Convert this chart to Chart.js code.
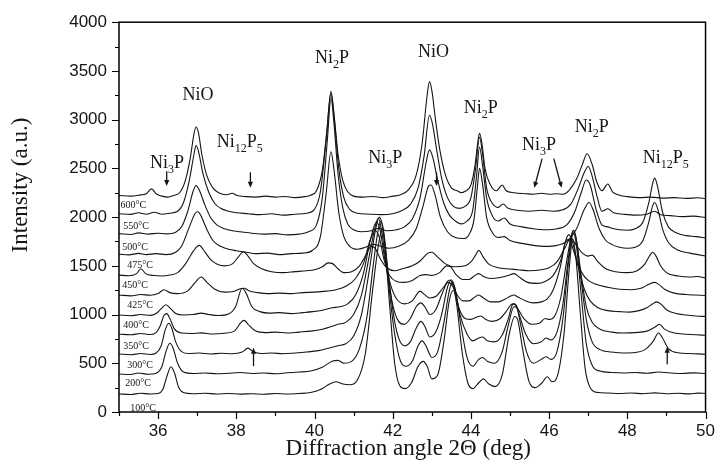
<!DOCTYPE html>
<html>
<head>
<meta charset="utf-8">
<title>XRD patterns vs. annealing temperature</title>
<script src="https://cdn.jsdelivr.net/npm/chart.js@4.4.1/dist/chart.umd.min.js"></script>
<style>
  html, body { margin: 0; padding: 0; background: #fff; }
  canvas { display: block; }
</style>
</head>
<body>
<canvas id="xrd" width="724" height="470"></canvas>
<script>
// --- Data: one pattern per annealing temperature, [2θ (deg), intensity (a.u.)], already offset for stacking ---

const trace600 = [[35.0,2222],[35.3,2215],[35.55,2228],[35.7,2240],[35.83,2290],[35.95,2240],[36.1,2215],[36.25,2205],[36.4,2222],[36.55,2250],[36.7,2380],[36.82,2600],[36.92,2860],[36.97,2925],[37.03,2870],[37.12,2640],[37.25,2420],[37.4,2300],[37.55,2250],[37.75,2230],[37.9,2245],[38.0,2225],[38.25,2210],[38.5,2205],[38.75,2215],[39.0,2205],[39.25,2212],[39.5,2200],[39.75,2210],[39.9,2225],[40.05,2270],[40.2,2480],[40.32,2900],[40.42,3290],[40.5,3050],[40.6,2650],[40.72,2380],[40.85,2260],[41.0,2215],[41.25,2205],[41.5,2212],[41.75,2200],[42.0,2215],[42.2,2230],[42.4,2280],[42.6,2430],[42.75,2750],[42.88,3250],[42.94,3390],[43.0,3300],[43.1,2980],[43.2,2700],[43.35,2430],[43.5,2300],[43.65,2270],[43.75,2250],[43.85,2265],[44.0,2330],[44.1,2520],[44.18,2780],[44.22,2860],[44.28,2760],[44.36,2500],[44.5,2330],[44.65,2270],[44.8,2330],[44.9,2270],[45.1,2250],[45.4,2240],[45.6,2235],[45.8,2245],[46.0,2235],[46.2,2240],[46.35,2235],[46.5,2270],[46.7,2390],[46.85,2540],[46.97,2650],[47.1,2540],[47.22,2360],[47.35,2270],[47.5,2340],[47.62,2260],[47.8,2225],[48.0,2210],[48.3,2200],[48.6,2205],[48.9,2195],[49.2,2200],[49.5,2192],[49.8,2198],[50.0,2190]];

const trace550 = [[35.0,2035],[35.3,2028],[35.5,2045],[35.7,2030],[35.9,2050],[36.1,2030],[36.3,2040],[36.5,2060],[36.65,2150],[36.8,2380],[36.92,2650],[36.97,2735],[37.03,2680],[37.15,2440],[37.3,2250],[37.45,2140],[37.6,2090],[37.8,2060],[38.0,2045],[38.3,2035],[38.6,2025],[38.9,2035],[39.2,2020],[39.5,2030],[39.8,2040],[40.0,2080],[40.15,2260],[40.3,2800],[40.42,3270],[40.5,3030],[40.62,2500],[40.75,2200],[40.9,2080],[41.1,2040],[41.4,2030],[41.7,2025],[42.0,2035],[42.2,2060],[42.45,2130],[42.65,2300],[42.8,2620],[42.94,3045],[43.02,2950],[43.12,2700],[43.25,2400],[43.4,2200],[43.55,2110],[43.7,2090],[43.85,2110],[44.0,2200],[44.12,2500],[44.22,2820],[44.3,2640],[44.4,2300],[44.55,2140],[44.7,2100],[44.82,2135],[44.95,2090],[45.2,2070],[45.5,2060],[45.8,2070],[46.1,2060],[46.35,2075],[46.55,2130],[46.75,2300],[46.9,2460],[47.0,2520],[47.1,2420],[47.22,2220],[47.35,2060],[47.5,2085],[47.65,2045],[47.9,2030],[48.2,2020],[48.5,2030],[48.7,2060],[48.85,2025],[49.1,2015],[49.4,2005],[49.7,2010],[50.0,1995]];

const trace500 = [[35.0,1830],[35.3,1822],[35.5,1838],[35.75,1825],[36.0,1835],[36.2,1828],[36.45,1845],[36.6,1900],[36.75,2050],[36.9,2270],[36.97,2325],[37.05,2280],[37.2,2120],[37.35,1990],[37.5,1920],[37.7,1880],[37.9,1860],[38.1,1850],[38.4,1835],[38.7,1825],[39.0,1830],[39.3,1818],[39.6,1825],[39.85,1850],[40.05,1920],[40.2,2200],[40.33,2800],[40.42,3220],[40.5,2950],[40.6,2450],[40.72,2100],[40.85,1930],[41.0,1870],[41.2,1850],[41.45,1860],[41.65,1885],[41.85,1860],[42.1,1870],[42.3,1900],[42.5,1980],[42.7,2200],[42.85,2550],[42.94,2690],[43.02,2620],[43.15,2380],[43.3,2150],[43.45,2020],[43.6,1960],[43.75,1930],[43.9,1960],[44.05,2080],[44.15,2450],[44.22,2720],[44.3,2520],[44.4,2200],[44.55,2010],[44.7,1960],[44.85,1990],[45.0,1930],[45.3,1900],[45.6,1880],[45.9,1870],[46.2,1880],[46.45,1920],[46.65,2050],[46.82,2250],[46.95,2380],[47.05,2330],[47.2,2080],[47.35,1920],[47.5,1900],[47.6,1885],[47.8,1870],[48.0,1865],[48.2,1880],[48.4,1950],[48.55,2150],[48.65,2350],[48.7,2400],[48.78,2300],[48.9,2050],[49.05,1900],[49.25,1840],[49.5,1810],[49.75,1800],[50.0,1785]];

const trace475 = [[35.0,1620],[35.25,1612],[35.5,1628],[35.7,1615],[35.95,1625],[36.2,1615],[36.45,1640],[36.6,1700],[36.8,1900],[36.95,2040],[37.02,2055],[37.1,2010],[37.25,1870],[37.4,1760],[37.6,1700],[37.8,1670],[38.0,1655],[38.25,1640],[38.5,1625],[38.8,1630],[39.1,1615],[39.4,1625],[39.7,1630],[39.95,1660],[40.15,1800],[40.3,2250],[40.42,2670],[40.5,2480],[40.62,2050],[40.75,1800],[40.9,1700],[41.1,1670],[41.3,1690],[41.5,1720],[41.7,1700],[41.9,1680],[42.15,1700],[42.4,1760],[42.6,1880],[42.78,2120],[42.92,2320],[42.98,2330],[43.08,2230],[43.22,2000],[43.4,1850],[43.6,1790],[43.8,1780],[43.95,1820],[44.08,1980],[44.17,2330],[44.22,2500],[44.3,2330],[44.4,2000],[44.55,1840],[44.7,1790],[44.85,1800],[45.0,1760],[45.3,1730],[45.6,1710],[45.9,1700],[46.2,1710],[46.45,1750],[46.7,1880],[46.9,2080],[47.02,2150],[47.12,2080],[47.28,1880],[47.45,1760],[47.6,1720],[47.8,1690],[48.0,1680],[48.2,1690],[48.4,1760],[48.55,1950],[48.65,2120],[48.7,2150],[48.78,2080],[48.9,1880],[49.05,1740],[49.3,1660],[49.6,1630],[49.8,1615],[50.0,1600]];

const trace450 = [[35.0,1405],[35.25,1398],[35.45,1420],[35.56,1470],[35.68,1420],[35.9,1400],[36.1,1395],[36.3,1405],[36.5,1430],[36.7,1520],[36.9,1650],[37.05,1710],[37.2,1640],[37.35,1560],[37.5,1520],[37.7,1500],[37.9,1520],[38.05,1590],[38.18,1645],[38.3,1600],[38.45,1520],[38.65,1470],[38.9,1440],[39.2,1430],[39.5,1440],[39.8,1450],[40.0,1460],[40.2,1490],[40.35,1530],[40.45,1525],[40.6,1470],[40.75,1430],[40.95,1440],[41.15,1500],[41.3,1600],[41.45,1700],[41.55,1680],[41.7,1560],[41.85,1480],[42.05,1450],[42.25,1470],[42.5,1500],[42.7,1550],[42.9,1630],[43.0,1640],[43.15,1590],[43.35,1520],[43.6,1490],[43.85,1500],[44.0,1540],[44.12,1610],[44.2,1660],[44.3,1600],[44.45,1520],[44.7,1480],[44.9,1470],[45.2,1460],[45.5,1450],[45.8,1460],[46.0,1480],[46.2,1540],[46.4,1680],[46.55,1780],[46.68,1720],[46.85,1630],[47.0,1600],[47.1,1610],[47.25,1540],[47.45,1470],[47.7,1440],[48.0,1430],[48.25,1450],[48.45,1520],[48.58,1610],[48.65,1640],[48.72,1610],[48.85,1500],[49.0,1430],[49.3,1395],[49.6,1385],[49.8,1390],[50.0,1375]];

const trace425 = [[35.0,1200],[35.3,1192],[35.55,1205],[35.8,1198],[36.0,1215],[36.15,1255],[36.3,1225],[36.5,1215],[36.75,1240],[36.95,1330],[37.1,1385],[37.25,1330],[37.45,1260],[37.7,1230],[37.95,1240],[38.1,1265],[38.2,1270],[38.32,1245],[38.55,1225],[38.8,1215],[39.1,1220],[39.4,1215],[39.7,1225],[40.0,1230],[40.3,1240],[40.55,1255],[40.8,1290],[41.05,1370],[41.25,1520],[41.42,1760],[41.55,1860],[41.65,1800],[41.78,1560],[41.92,1400],[42.1,1340],[42.3,1330],[42.5,1350],[42.7,1400],[42.85,1410],[43.0,1400],[43.2,1430],[43.38,1500],[43.48,1490],[43.62,1410],[43.8,1360],[43.95,1360],[44.1,1400],[44.2,1420],[44.32,1390],[44.5,1370],[44.75,1380],[44.95,1400],[45.1,1420],[45.25,1380],[45.45,1330],[45.7,1320],[45.9,1340],[46.1,1400],[46.3,1560],[46.45,1770],[46.55,1740],[46.7,1560],[46.85,1420],[47.0,1350],[47.2,1310],[47.5,1280],[47.8,1260],[48.1,1255],[48.35,1270],[48.55,1310],[48.7,1330],[48.8,1310],[48.95,1260],[49.2,1220],[49.5,1205],[49.75,1200],[50.0,1195]];

const trace400 = [[35.0,995],[35.3,988],[35.55,1000],[35.8,992],[35.95,1010],[36.08,1060],[36.2,1100],[36.32,1060],[36.45,1010],[36.65,995],[36.9,1000],[37.1,1015],[37.3,1000],[37.55,990],[37.8,1005],[37.98,1080],[38.15,1270],[38.25,1220],[38.4,1080],[38.6,1030],[38.85,1015],[39.1,1020],[39.4,1010],[39.7,1020],[39.95,1030],[40.2,1045],[40.45,1070],[40.65,1080],[40.85,1110],[41.05,1200],[41.25,1420],[41.42,1750],[41.58,1950],[41.68,1860],[41.8,1560],[41.95,1300],[42.1,1160],[42.3,1110],[42.5,1140],[42.62,1210],[42.7,1240],[42.8,1210],[42.95,1170],[43.12,1190],[43.28,1270],[43.42,1330],[43.52,1300],[43.65,1200],[43.8,1140],[43.95,1140],[44.1,1180],[44.2,1200],[44.32,1170],[44.5,1130],[44.7,1130],[44.88,1160],[45.02,1190],[45.1,1200],[45.2,1180],[45.4,1140],[45.6,1120],[45.8,1130],[45.95,1160],[46.1,1250],[46.28,1480],[46.42,1750],[46.5,1820],[46.6,1740],[46.75,1480],[46.9,1260],[47.05,1140],[47.25,1070],[47.5,1040],[47.8,1030],[48.05,1025],[48.3,1040],[48.5,1070],[48.65,1110],[48.75,1130],[48.85,1110],[49.0,1050],[49.25,1010],[49.5,995],[49.75,985],[50.0,980]];

const trace350 = [[35.0,800],[35.3,792],[35.55,806],[35.8,795],[35.95,815],[36.05,880],[36.15,990],[36.22,1010],[36.3,960],[36.42,850],[36.6,810],[36.85,805],[37.1,812],[37.4,800],[37.7,808],[37.95,830],[38.12,920],[38.2,940],[38.3,900],[38.5,830],[38.75,815],[39.0,820],[39.3,810],[39.6,820],[39.9,830],[40.2,850],[40.45,880],[40.6,900],[40.8,920],[41.0,1000],[41.2,1200],[41.4,1600],[41.55,1900],[41.63,1990],[41.72,1850],[41.85,1450],[42.0,1100],[42.15,930],[42.3,900],[42.45,960],[42.6,1080],[42.72,1120],[42.82,1080],[42.95,1000],[43.1,1050],[43.25,1200],[43.4,1340],[43.47,1355],[43.55,1290],[43.7,1060],[43.85,960],[44.0,950],[44.15,975],[44.25,985],[44.38,950],[44.55,930],[44.75,960],[44.9,1030],[45.02,1100],[45.1,1110],[45.2,1060],[45.35,960],[45.55,900],[45.75,910],[45.9,960],[46.0,950],[46.15,990],[46.3,1180],[46.45,1550],[46.58,1830],[46.63,1865],[46.7,1760],[46.82,1400],[46.95,1080],[47.1,920],[47.3,850],[47.6,820],[47.9,810],[48.2,815],[48.5,830],[48.7,870],[48.82,900],[48.95,850],[49.2,810],[49.5,798],[49.75,792],[50.0,788]];

const trace300 = [[35.0,595],[35.3,588],[35.55,600],[35.8,590],[35.95,605],[36.08,680],[36.18,840],[36.27,910],[36.35,860],[36.45,720],[36.6,620],[36.8,600],[37.05,605],[37.35,595],[37.6,603],[37.9,598],[38.15,615],[38.3,655],[38.42,620],[38.65,600],[38.9,605],[39.2,598],[39.5,605],[39.8,615],[40.1,630],[40.4,660],[40.6,680],[40.8,700],[41.0,780],[41.2,1000],[41.4,1450],[41.55,1850],[41.66,2000],[41.75,1880],[41.88,1450],[42.02,1000],[42.15,760],[42.3,680],[42.45,720],[42.6,860],[42.72,930],[42.82,880],[42.95,770],[43.1,820],[43.25,1000],[43.4,1280],[43.5,1355],[43.58,1290],[43.72,1000],[43.9,800],[44.05,730],[44.2,760],[44.3,770],[44.42,730],[44.6,720],[44.8,790],[44.95,950],[45.08,1110],[45.15,1100],[45.25,980],[45.4,800],[45.6,700],[45.8,720],[45.92,760],[46.05,740],[46.2,820],[46.35,1100],[46.5,1600],[46.62,1860],[46.7,1760],[46.82,1350],[46.95,950],[47.1,720],[47.3,640],[47.6,615],[47.9,605],[48.2,610],[48.45,640],[48.65,720],[48.8,810],[48.9,760],[49.05,650],[49.3,608],[49.6,600],[49.8,596],[50.0,593]];

const trace200 = [[35.0,390],[35.3,385],[35.5,400],[35.75,388],[35.95,398],[36.1,470],[36.2,620],[36.3,705],[36.38,660],[36.5,500],[36.65,410],[36.9,395],[37.2,400],[37.5,392],[37.8,398],[38.1,405],[38.4,395],[38.7,400],[39.0,392],[39.3,402],[39.6,410],[39.9,420],[40.2,460],[40.45,520],[40.6,530],[40.75,500],[40.95,520],[41.15,650],[41.35,1000],[41.5,1500],[41.62,1850],[41.7,1960],[41.78,1820],[41.9,1300],[42.05,800],[42.2,520],[42.35,470],[42.5,520],[42.65,680],[42.75,730],[42.85,680],[43.0,560],[43.15,620],[43.3,900],[43.45,1250],[43.52,1330],[43.6,1250],[43.75,880],[43.9,560],[44.05,470],[44.2,540],[44.3,560],[44.42,520],[44.6,500],[44.8,620],[44.95,880],[45.1,1080],[45.17,1070],[45.27,900],[45.42,620],[45.6,500],[45.8,540],[45.92,567],[46.05,540],[46.2,620],[46.35,950],[46.5,1550],[46.62,1840],[46.7,1700],[46.82,1200],[46.95,700],[47.1,480],[47.3,420],[47.6,405],[47.9,400],[48.2,405],[48.5,398],[48.8,410],[49.1,400],[49.4,395],[49.7,402],[50.0,395]];

const trace100 = [[35.0,185],[35.3,180],[35.55,192],[35.8,185],[36.0,190],[36.12,230],[36.22,360],[36.33,465],[36.42,400],[36.52,260],[36.65,200],[36.9,188],[37.2,192],[37.5,185],[37.8,190],[38.1,183],[38.4,188],[38.7,182],[39.0,190],[39.3,185],[39.6,190],[39.9,200],[40.15,230],[40.4,290],[40.55,310],[40.7,290],[40.9,280],[41.1,330],[41.3,600],[41.5,1300],[41.65,1750],[41.73,1870],[41.8,1700],[41.92,1100],[42.05,500],[42.18,270],[42.32,240],[42.48,300],[42.65,470],[42.78,520],[42.88,470],[43.0,340],[43.15,380],[43.3,700],[43.45,1150],[43.55,1250],[43.63,1120],[43.78,600],[43.92,300],[44.05,240],[44.2,300],[44.32,340],[44.45,290],[44.62,260],[44.8,380],[44.98,800],[45.12,980],[45.2,940],[45.32,650],[45.48,320],[45.65,250],[45.82,300],[45.95,362],[46.08,310],[46.22,380],[46.38,800],[46.52,1500],[46.6,1780],[46.68,1600],[46.8,1000],[46.92,450],[47.05,250],[47.25,200],[47.5,195],[47.8,190],[48.1,195],[48.4,188],[48.7,196],[49.0,188],[49.3,192],[49.6,186],[49.8,194],[50.0,190]];

const temperatures = ['600°C', '550°C', '500°C', '475°C', '450°C', '425°C', '400°C', '350°C', '300°C', '200°C', '100°C'];
const traces = [trace600, trace550, trace500, trace475, trace450, trace425, trace400, trace350, trace300, trace200, trace100];

// --- Annotation layout (data units), kept apart from the patterns ---

// left end / vertical middle of each temperature tag, same order as temperatures
const tagX = [35.04, 35.11, 35.08, 35.21, 35.08, 35.21, 35.11, 35.11, 35.21, 35.16, 35.29];
const tagY = [2122, 1907, 1694, 1507, 1302, 1097, 892, 669, 482, 297, 41];

// phase names; [text, subscript?] pieces, centred on x, baseline at y
const NiO = [['NiO', false]];
const Ni2P = [['Ni', false], ['2', true], ['P', false]];
const Ni3P = [['Ni', false], ['3', true], ['P', false]];
const Ni12P5 = [['Ni', false], ['12', true], ['P', false], ['5', true]];
const phaseLabels = [
    { x: 37.02, y: 3200, parts: NiO },
    { x: 36.23, y: 2500, parts: Ni3P },
    { x: 38.09, y: 2716, parts: Ni12P5 },
    { x: 40.45, y: 3577, parts: Ni2P },
    { x: 41.81, y: 2552, parts: Ni3P },
    { x: 43.04, y: 3639, parts: NiO },
    { x: 44.25, y: 3065, parts: Ni2P },
    { x: 45.74, y: 2686, parts: Ni3P },
    { x: 47.09, y: 2870, parts: Ni2P },
    { x: 48.98, y: 2552, parts: Ni12P5 }
];

// arrows from (x1, y1) to the head at (x2, y2)
const arrows = [
    { x1: 36.22, y1: 2470, x2: 36.22, y2: 2320 },
    { x1: 38.36, y1: 2460, x2: 38.36, y2: 2300 },
    { x1: 43.12, y1: 2460, x2: 43.12, y2: 2320 },
    { x1: 45.82, y1: 2600, x2: 45.62, y2: 2300 },
    { x1: 46.12, y1: 2600, x2: 46.32, y2: 2300 },
    { x1: 38.44, y1: 470, x2: 38.44, y2: 660 },
    { x1: 49.02, y1: 490, x2: 49.02, y2: 670 }
];

const SERIF = '"Liberation Serif", "Times New Roman", Times, serif';
const SANS = '"Liberation Sans", Arial, Helvetica, sans-serif';
const INK = '#151515';

// --- Helpers ---

function drawFormula(ctx, parts, cx, baseY) {
    const big = '18px ' + SERIF;
    const small = '12px ' + SERIF;
    let width = 0;
    parts.forEach(([t, sub]) => {
        ctx.font = sub ? small : big;
        width += ctx.measureText(t).width;
    });
    let px = cx - width / 2;
    parts.forEach(([t, sub]) => {
        ctx.font = sub ? small : big;
        ctx.fillText(t, px, baseY + (sub ? 5 : 0));
        px += ctx.measureText(t).width;
    });
}

function drawArrow(ctx, x1, y1, x2, y2) {
    const ang = Math.atan2(y2 - y1, x2 - x1);
    const len = 6, half = 2.6;
    ctx.beginPath();
    ctx.moveTo(x1, y1);
    ctx.lineTo(x2 - Math.cos(ang) * len * 0.8, y2 - Math.sin(ang) * len * 0.8);
    ctx.stroke();
    ctx.beginPath();
    ctx.moveTo(x2, y2);
    ctx.lineTo(x2 - Math.cos(ang) * len - Math.sin(ang) * half, y2 - Math.sin(ang) * len + Math.cos(ang) * half);
    ctx.lineTo(x2 - Math.cos(ang) * len + Math.sin(ang) * half, y2 - Math.sin(ang) * len - Math.cos(ang) * half);
    ctx.closePath();
    ctx.fill();
}

// temperature tags, phase names and arrows on top of the patterns
const annotations = {
    id: 'annotations',
    afterDatasetsDraw(chart) {
        const { ctx, scales: { x, y } } = chart;
        ctx.save();
        ctx.fillStyle = INK;
        ctx.strokeStyle = INK;
        ctx.lineWidth = 1.3;

        ctx.font = '10px ' + SERIF;
        ctx.textAlign = 'left';
        ctx.textBaseline = 'middle';
        temperatures.forEach((t, i) => {
            ctx.fillText(t, x.getPixelForValue(tagX[i]), y.getPixelForValue(tagY[i]));
        });

        ctx.textBaseline = 'alphabetic';
        phaseLabels.forEach(l => {
            drawFormula(ctx, l.parts, x.getPixelForValue(l.x), y.getPixelForValue(l.y));
        });

        arrows.forEach(a => {
            drawArrow(ctx, x.getPixelForValue(a.x1), y.getPixelForValue(a.y1),
                x.getPixelForValue(a.x2), y.getPixelForValue(a.y2));
        });
        ctx.restore();
    }
};

// boxed frame, outward tick marks (major + minor) and the axis titles
const frame = {
    id: 'frame',
    afterDraw(chart) {
        const { ctx, chartArea: a, scales: { x, y } } = chart;
        ctx.save();
        ctx.strokeStyle = '#000';
        ctx.lineWidth = 1.5;
        ctx.strokeRect(a.left, a.top, a.right - a.left, a.bottom - a.top);

        ctx.lineWidth = 1.2;
        ctx.beginPath();
        for (let v = x.min; v <= x.max; v++) {
            const px = Math.round(x.getPixelForValue(v)) + 0.5;
            ctx.moveTo(px, a.bottom);
            ctx.lineTo(px, a.bottom + (v % 2 === 0 ? 7 : 4));
        }
        for (let v = y.min; v <= y.max; v += 250) {
            const py = Math.round(y.getPixelForValue(v)) + 0.5;
            ctx.moveTo(a.left, py);
            ctx.lineTo(a.left - (v % 500 === 0 ? 7 : 4), py);
        }
        ctx.stroke();

        ctx.fillStyle = INK;
        ctx.font = '23px ' + SERIF;
        ctx.textAlign = 'center';
        ctx.textBaseline = 'middle';
        ctx.fillText('Diffraction angle 2Θ (deg)', (a.left + a.right) / 2 - 4, 449);

        ctx.translate(21, 185);
        ctx.rotate(-Math.PI / 2);
        ctx.fillText('Intensity (a.u.)', 0, 0);
        ctx.restore();
    }
};

// --- Chart ---

const datasets = traces.map((trace, i) => ({
    label: temperatures[i],
    data: trace.map(([deg, counts]) => ({ x: deg, y: counts })),
    borderColor: INK,
    borderWidth: 1.1,
    pointRadius: 0,
    fill: false,
    cubicInterpolationMode: 'monotone'
}));

new Chart(document.getElementById('xrd'), {
    type: 'line',
    data: { datasets },
    options: {
        responsive: false,
        animation: false,
        devicePixelRatio: 1,
        layout: { padding: { top: 22, right: 10, bottom: 0, left: 0 } },
        plugins: {
            legend: { display: false },
            tooltip: { enabled: false }
        },
        scales: {
            x: {
                type: 'linear',
                min: 35,
                max: 50,
                afterFit: s => { s.height = 58; },
                grid: { display: false, drawTicks: false },
                border: { display: false },
                ticks: {
                    stepSize: 1,
                    autoSkip: false,
                    maxRotation: 0,
                    padding: 9,
                    color: INK,
                    font: { family: SANS, size: 17 },
                    callback: v => (v % 2 === 0 ? String(v) : '')
                }
            },
            y: {
                min: 0,
                max: 4000,
                afterFit: s => { s.width = 119; },
                grid: { display: false, drawTicks: false },
                border: { display: false },
                ticks: {
                    stepSize: 500,
                    padding: 12,
                    color: INK,
                    font: { family: SANS, size: 17 },
                    callback: v => String(v)
                }
            }
        }
    },
    plugins: [annotations, frame]
});
</script>
</body>
</html>
